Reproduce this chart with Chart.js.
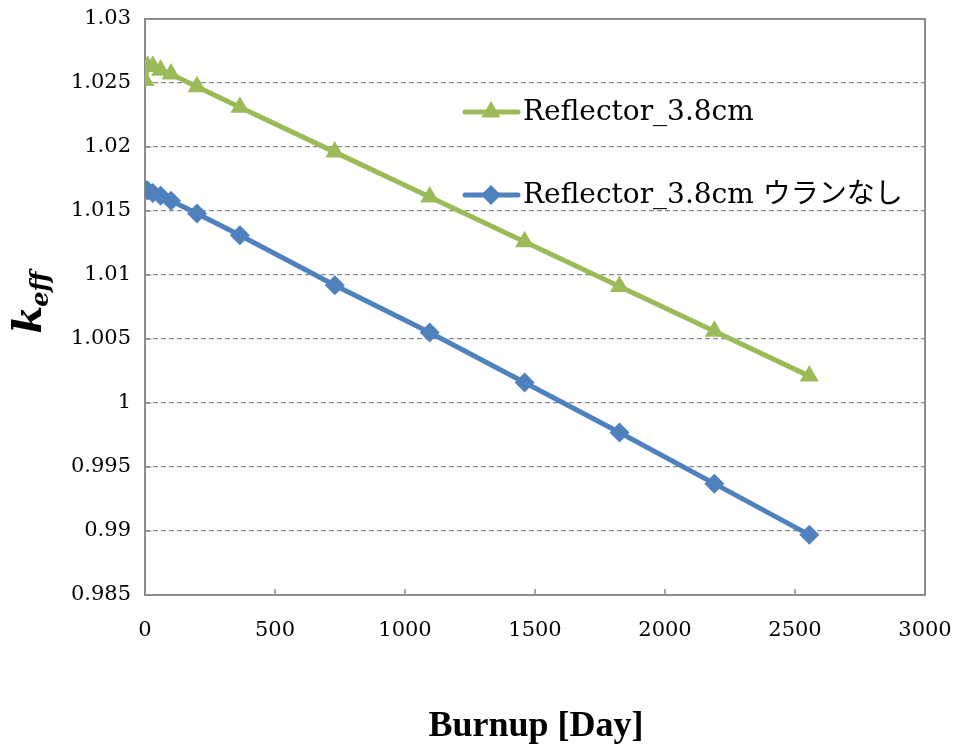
<!DOCTYPE html>
<html>
<head>
<meta charset="utf-8">
<script src="https://cdn.jsdelivr.net/npm/chart.js@4/dist/chart.umd.min.js"></script>
<style>
  html, body { margin: 0; padding: 0; background: #ffffff; }
  #wrap { width: 963px; height: 749px; }
</style>
</head>
<body>
<div id="wrap"><canvas id="c" width="963" height="749"></canvas></div>
<script>
// Burnup steps (days) and effective multiplication factor for each core model
const burnupDays = [0, 10, 30, 60, 100, 200, 365, 730, 1095, 1460, 1825, 2190, 2555];
const keffReflector = [1.0252, 1.0263, 1.0263, 1.0260, 1.0257, 1.0247, 1.0231, 1.0196, 1.0161, 1.0126, 1.0091, 1.0056, 1.0021];
const keffReflectorNoUranium = [1.0167, 1.0166, 1.0164, 1.0162, 1.0158, 1.0148, 1.0131, 1.0092, 1.0055, 1.0016, 0.9977, 0.9937, 0.9897];
const seriesNames = ['Reflector_3.8cm', 'Reflector_3.8cm ウランなし'];
const xTickValues = [0, 500, 1000, 1500, 2000, 2500, 3000];
const yTickValues = [0.985, 0.99, 0.995, 1, 1.005, 1.01, 1.015, 1.02, 1.025, 1.03];
const xTitle = 'Burnup [Day]';
const yTitleMain = 'k';
const yTitleSub = 'eff';

const GREEN = '#9BBB59';
const BLUE = '#4F81BD';
const FRAME = '#8c8c8c';
const TICK_FONT = '"DejaVu Serif", serif';

// plot frame and inward tick marks
const frameAndTicks = {
  id: 'frameAndTicks',
  beforeDatasetsDraw(chart) {
    const { ctx, chartArea: a, scales } = chart;
    ctx.save();
    ctx.strokeStyle = FRAME;
    ctx.lineWidth = 2;
    ctx.strokeRect(a.left, a.top, a.right - a.left, a.bottom - a.top);
    ctx.beginPath();
    xTickValues.forEach(v => {
      const px = Math.round(scales.x.getPixelForValue(v));
      ctx.moveTo(px, a.bottom);
      ctx.lineTo(px, a.bottom - 6);
    });
    yTickValues.forEach(v => {
      const py = Math.round(scales.y.getPixelForValue(v));
      ctx.moveTo(a.left, py);
      ctx.lineTo(a.left + 6, py);
    });
    ctx.lineWidth = 1.5;
    ctx.stroke();
    ctx.restore();
  }
};

function markerPath(ctx, style, x, y, r) {
  ctx.beginPath();
  if (style === 'triangle') {
    ctx.moveTo(x, y - r);
    ctx.lineTo(x + r * Math.sin(Math.PI * 2 / 3), y + r / 2);
    ctx.lineTo(x - r * Math.sin(Math.PI * 2 / 3), y + r / 2);
  } else {
    ctx.moveTo(x, y - r);
    ctx.lineTo(x + r, y);
    ctx.lineTo(x, y + r);
    ctx.lineTo(x - r, y);
  }
  ctx.closePath();
}

// legend with line + marker samples, placed inside the plot
const insideLegend = {
  id: 'insideLegend',
  afterDatasetsDraw(chart) {
    const { ctx } = chart;
    const rows = [112, 195];
    ctx.save();
    chart.data.datasets.forEach((ds, i) => {
      const y = rows[i];
      ctx.strokeStyle = ds.borderColor;
      ctx.lineWidth = 5;
      ctx.lineCap = 'round';
      ctx.beginPath();
      ctx.moveTo(465, y);
      ctx.lineTo(518, y);
      ctx.stroke();
      ctx.fillStyle = ds.backgroundColor;
      markerPath(ctx, ds.pointStyle, 491, y, ds.pointRadius);
      ctx.fill();
      ctx.fillStyle = '#000000';
      ctx.font = '28px "DejaVu Serif", "Noto Sans CJK JP", serif';
      ctx.textBaseline = 'middle';
      ctx.textAlign = 'left';
      ctx.fillText(ds.label, 523, y + 1);
    });
    ctx.restore();
  }
};

// axis titles, including the subscripted k_eff
const axisTitles = {
  id: 'axisTitles',
  afterDraw(chart) {
    const { ctx } = chart;
    ctx.save();
    ctx.fillStyle = '#000000';
    ctx.font = 'bold 36px "Liberation Serif", serif';
    ctx.textAlign = 'center';
    ctx.textBaseline = 'alphabetic';
    ctx.fillText(xTitle, 536, 736);

    ctx.translate(41, 302);
    ctx.rotate(-Math.PI / 2);
    ctx.textAlign = 'left';
    ctx.font = 'italic bold 40px "DejaVu Serif", serif';
    const kw = ctx.measureText(yTitleMain).width;
    ctx.font = 'italic bold 24px "DejaVu Serif", serif';
    const sw = ctx.measureText(yTitleSub).width;
    const start = -(kw + sw) / 2;
    ctx.font = 'italic bold 40px "DejaVu Serif", serif';
    ctx.fillText(yTitleMain, start, 0);
    ctx.font = 'italic bold 24px "DejaVu Serif", serif';
    ctx.fillText(yTitleSub, start + kw - 1, 7);
    ctx.restore();
  }
};

new Chart(document.getElementById('c'), {
  type: 'line',
  data: {
    datasets: [
      {
        label: seriesNames[0],
        data: burnupDays.map((d, i) => ({ x: d, y: keffReflector[i] })),
        borderColor: GREEN,
        backgroundColor: GREEN,
        borderWidth: 5,
        pointStyle: 'triangle',
        pointRadius: 11,
        pointBorderWidth: 0,
        pointBackgroundColor: GREEN,
        tension: 0
      },
      {
        label: seriesNames[1],
        data: burnupDays.map((d, i) => ({ x: d, y: keffReflectorNoUranium[i] })),
        borderColor: BLUE,
        backgroundColor: BLUE,
        borderWidth: 5,
        pointStyle: 'rectRot',
        pointRadius: 10,
        pointBorderWidth: 0,
        pointBackgroundColor: BLUE,
        tension: 0
      }
    ]
  },
  options: {
    responsive: false,
    animation: false,
    layout: { padding: { left: 0, top: 19, right: 38, bottom: 0 } },
    plugins: {
      legend: { display: false },
      tooltip: { enabled: false },
      title: { display: false }
    },
    scales: {
      x: {
        type: 'linear',
        min: 0,
        max: 3000,
        afterBuildTicks(axis) { axis.ticks = xTickValues.map(v => ({ value: v })); },
        afterFit(scale) { scale.height = 154; scale.paddingLeft = 0; scale.paddingRight = 0; },
        grid: { display: false, drawTicks: false },
        border: { display: false },
        ticks: {
          color: '#000000',
          font: { family: TICK_FONT, size: 21 },
          padding: 23,
          maxRotation: 0,
          callback: v => String(v)
        }
      },
      y: {
        type: 'linear',
        min: 0.985,
        max: 1.03,
        afterBuildTicks(axis) { axis.ticks = yTickValues.map(v => ({ value: v })); },
        afterFit(scale) { scale.width = 145; scale.paddingTop = 0; scale.paddingBottom = 0; },
        grid: { color: '#8a8a8a', lineWidth: 1.2, drawTicks: false },
        border: { display: false, dash: [5, 3] },
        ticks: {
          color: '#000000',
          font: { family: TICK_FONT, size: 21 },
          padding: 14,
          callback: v => String(v)
        }
      }
    }
  },
  plugins: [frameAndTicks, insideLegend, axisTitles]
});
</script>
</body>
</html>
